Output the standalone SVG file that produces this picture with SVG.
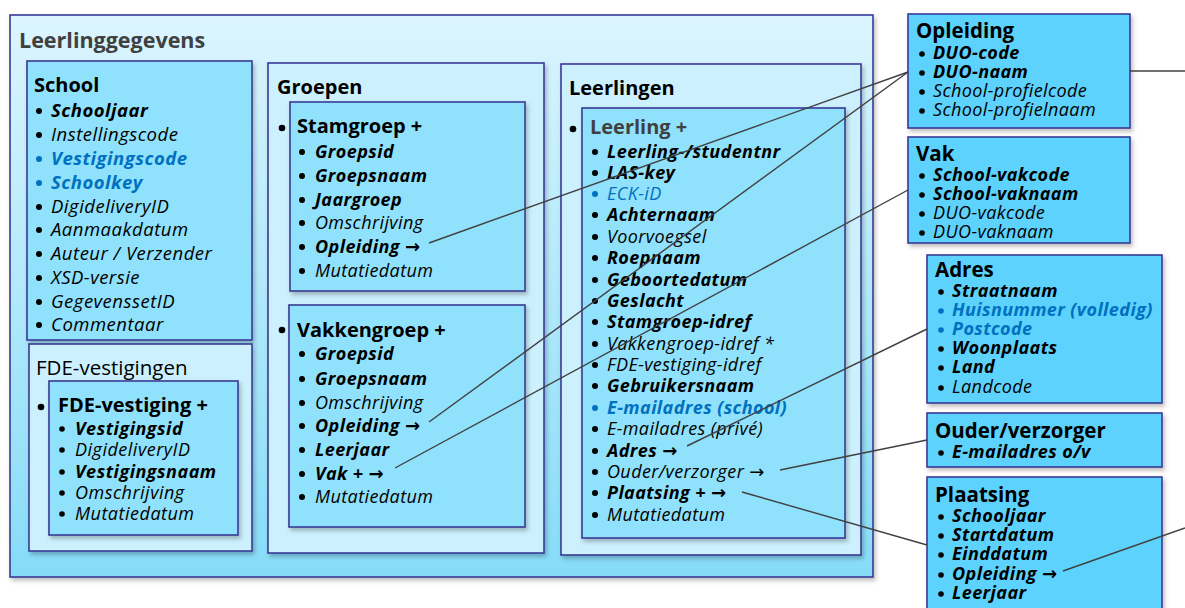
<svg xmlns="http://www.w3.org/2000/svg" width="1185" height="608" viewBox="0 0 1185 608">
<style>
text{font-family:"Open Sans","Noto Sans","Liberation Sans",sans-serif;fill:#000}
.box{stroke:#3a3a96;stroke-width:1.6}
.outer{fill:url(#g)}
.mid{fill:#ccf0fd}
.inn{fill:#90e1fc}
.ext{fill:#5dd2fc}
.h{font-weight:bold;font-size:20px}
.hr{font-weight:bold;font-size:20.5px}
.hb{font-weight:bold;font-size:21.5px;fill:#404040}
.hn{font-size:20.5px}
.bi{font-weight:bold;font-style:italic;font-size:18px;letter-spacing:0.4px}
.i{font-style:italic;font-size:18px;letter-spacing:0.4px}
.L{font-size:18.5px;letter-spacing:0.5px}
.F{font-size:18px;letter-spacing:0.5px}
.blue{fill:#0070c0}
.bb{fill:#0070c0}
.ar{font-family:"DejaVu Sans",sans-serif;font-style:normal;letter-spacing:0}
.con{stroke:#404040;stroke-width:1.4;fill:none}
</style>
<defs>
<linearGradient id="g" x1="0" y1="0" x2="0" y2="1">
<stop offset="0" stop-color="#dcf5fe"/>
<stop offset="1" stop-color="#86dcf8"/>
</linearGradient>
<filter id="sh" x="-5%" y="-5%" width="115%" height="115%">
<feDropShadow dx="2" dy="3" stdDeviation="2" flood-color="#000" flood-opacity="0.25"/>
</filter>
</defs>

<g id="leerlinggegevens">
<rect class="box outer" x="10" y="15" width="863" height="562" filter="url(#sh)"/>
<text class="hb" x="19" y="48">Leerlinggegevens</text>
</g>

<g id="school">
<rect class="box inn" x="27" y="61" width="225" height="279" filter="url(#sh)"/>
<text class="h" x="34" y="92">School</text>
<g><circle cx="39" cy="111" r="3"/><circle cx="39" cy="135" r="3"/><circle cx="39" cy="207" r="3"/><circle cx="39" cy="230" r="3"/><circle cx="39" cy="254" r="3"/><circle cx="39" cy="278" r="3"/><circle cx="39" cy="302" r="3"/><circle cx="39" cy="325" r="3"/></g>
<g class="bb"><circle cx="39" cy="159" r="3"/><circle cx="39" cy="183" r="3"/></g>
<text class="bi L" x="51" y="117">Schooljaar</text>
<text class="i L" x="51" y="141">Instellingscode</text>
<text class="bi L blue" x="51" y="165">Vestigingscode</text>
<text class="bi L blue" x="51" y="189">Schoolkey</text>
<text class="i L" x="51" y="213">DigideliveryID</text>
<text class="i L" x="51" y="236">Aanmaakdatum</text>
<text class="i L" x="51" y="260">Auteur / Verzender</text>
<text class="i L" x="51" y="284">XSD-versie</text>
<text class="i L" x="51" y="308">GegevenssetID</text>
<text class="i L" x="51" y="331">Commentaar</text>
</g>

<g id="fde-vestigingen">
<rect class="box mid" x="29" y="344" width="223" height="207" filter="url(#sh)"/>
<text class="hn" x="36" y="375">FDE-vestigingen</text>
<circle cx="41" cy="407" r="3.3"/>
</g>

<g id="fde-vestiging">
<rect class="box inn" x="49" y="381" width="189" height="154" filter="url(#sh)"/>
<text class="h" x="58" y="412">FDE-vestiging +</text>
<g><circle cx="62" cy="429" r="2.8"/><circle cx="62" cy="450" r="2.8"/><circle cx="62" cy="472" r="2.8"/><circle cx="62" cy="493" r="2.8"/><circle cx="62" cy="514" r="2.8"/></g>
<text class="bi F" x="75" y="435">Vestigingsid</text>
<text class="i F" x="75" y="456">DigideliveryID</text>
<text class="bi F" x="75" y="478">Vestigingsnaam</text>
<text class="i F" x="75" y="499">Omschrijving</text>
<text class="i F" x="75" y="520">Mutatiedatum</text>
</g>

<g id="groepen">
<rect class="box mid" x="268" y="63" width="276" height="490" filter="url(#sh)"/>
<text class="h" x="277" y="94">Groepen</text>
<circle cx="282" cy="128" r="3.3"/>
<circle cx="282" cy="330" r="3.3"/>
</g>

<g id="stamgroep">
<rect class="box inn" x="290" y="102" width="235" height="189" filter="url(#sh)"/>
<text class="h" x="297" y="133">Stamgroep +</text>
<g><circle cx="302" cy="152" r="3"/><circle cx="302" cy="176" r="3"/><circle cx="302" cy="200" r="3"/><circle cx="302" cy="223" r="3"/><circle cx="302" cy="247" r="3"/><circle cx="302" cy="271" r="3"/></g>
<text class="bi" x="315" y="158">Groepsid</text>
<text class="bi" x="315" y="182">Groepsnaam</text>
<text class="bi" x="315" y="206">Jaargroep</text>
<text class="i" x="315" y="229">Omschrijving</text>
<text class="bi" x="315" y="253">Opleiding <tspan class="ar">→</tspan></text>
<text class="i" x="315" y="277">Mutatiedatum</text>
</g>

<g id="vakkengroep">
<rect class="box inn" x="289" y="305" width="236" height="222" filter="url(#sh)"/>
<text class="h" x="297" y="337">Vakkengroep +</text>
<g><circle cx="302" cy="354" r="3"/><circle cx="302" cy="379" r="3"/><circle cx="302" cy="403" r="3"/><circle cx="302" cy="426" r="3"/><circle cx="302" cy="450" r="3"/><circle cx="302" cy="474" r="3"/><circle cx="302" cy="497" r="3"/></g>
<text class="bi" x="315" y="360">Groepsid</text>
<text class="bi" x="315" y="385">Groepsnaam</text>
<text class="i" x="315" y="409">Omschrijving</text>
<text class="bi" x="315" y="432">Opleiding <tspan class="ar">→</tspan></text>
<text class="bi" x="315" y="456">Leerjaar</text>
<text class="bi" x="315" y="480">Vak + <tspan class="ar">→</tspan></text>
<text class="i" x="315" y="503">Mutatiedatum</text>
</g>

<g id="leerlingen">
<rect class="box mid" x="561" y="64" width="300" height="491" filter="url(#sh)"/>
<text class="h" x="569" y="95">Leerlingen</text>
<circle cx="573" cy="129" r="3.3"/>
</g>

<g id="leerling">
<rect class="box inn" x="582" y="108" width="263" height="430" filter="url(#sh)"/>
<text class="h" x="590" y="134" style="fill:#404040">Leerling +</text>
<g><circle cx="595" cy="152" r="3"/><circle cx="595" cy="173" r="3"/><circle cx="595" cy="215" r="3"/><circle cx="595" cy="237" r="3"/><circle cx="595" cy="258" r="3"/><circle cx="595" cy="280" r="3"/><circle cx="595" cy="301" r="3"/><circle cx="595" cy="322" r="3"/><circle cx="595" cy="344" r="3"/><circle cx="595" cy="365" r="3"/><circle cx="595" cy="386" r="3"/><circle cx="595" cy="429" r="3"/><circle cx="595" cy="451" r="3"/><circle cx="595" cy="472" r="3"/><circle cx="595" cy="493" r="3"/><circle cx="595" cy="515" r="3"/></g>
<g class="bb"><circle cx="595" cy="194" r="3"/><circle cx="595" cy="408" r="3"/></g>
<text class="bi" x="607" y="158">Leerling-/studentnr</text>
<text class="bi" x="607" y="179">LAS-key</text>
<text class="i blue" x="607" y="200">ECK-iD</text>
<text class="bi" x="607" y="221">Achternaam</text>
<text class="i" x="607" y="243">Voorvoegsel</text>
<text class="bi" x="607" y="264">Roepnaam</text>
<text class="bi" x="607" y="286">Geboortedatum</text>
<text class="bi" x="607" y="307">Geslacht</text>
<text class="bi" x="607" y="328">Stamgroep-idref</text>
<text class="i" x="607" y="350">Vakkengroep-idref *</text>
<text class="i" x="607" y="371">FDE-vestiging-idref</text>
<text class="bi" x="607" y="392">Gebruikersnaam</text>
<text class="bi blue" x="607" y="414">E-mailadres (school)</text>
<text class="i" x="607" y="435">E-mailadres (privé)</text>
<text class="bi" x="607" y="457">Adres <tspan class="ar">→</tspan></text>
<text class="i" x="607" y="478">Ouder/verzorger <tspan class="ar">→</tspan></text>
<text class="bi" x="607" y="499">Plaatsing + <tspan class="ar">→</tspan></text>
<text class="i" x="607" y="521">Mutatiedatum</text>
</g>

<g id="opleiding">
<rect class="box ext" x="908" y="14" width="222" height="114" filter="url(#sh)"/>
<text class="hr" x="916" y="38">Opleiding</text>
<g><circle cx="922" cy="54" r="2.8"/><circle cx="922" cy="73" r="2.8"/><circle cx="922" cy="92" r="2.8"/><circle cx="922" cy="111" r="2.8"/></g>
<text class="bi" x="933" y="59">DUO-code</text>
<text class="bi" x="933" y="78">DUO-naam</text>
<text class="i" x="933" y="97">School-profielcode</text>
<text class="i" x="933" y="116">School-profielnaam</text>
</g>

<g id="vak">
<rect class="box ext" x="908" y="137" width="222" height="106" filter="url(#sh)"/>
<text class="hr" x="916" y="161">Vak</text>
<g><circle cx="922" cy="176" r="2.8"/><circle cx="922" cy="195" r="2.8"/><circle cx="922" cy="214" r="2.8"/><circle cx="922" cy="233" r="2.8"/></g>
<text class="bi" x="933" y="181">School-vakcode</text>
<text class="bi" x="933" y="200">School-vaknaam</text>
<text class="i" x="933" y="219">DUO-vakcode</text>
<text class="i" x="933" y="238">DUO-vaknaam</text>
</g>

<g id="adres">
<rect class="box ext" x="927" y="255" width="235" height="148" filter="url(#sh)"/>
<text class="hr" x="935" y="277">Adres</text>
<g><circle cx="941" cy="292" r="2.8"/><circle cx="941" cy="349" r="2.8"/><circle cx="941" cy="368" r="2.8"/><circle cx="941" cy="388" r="2.8"/></g>
<g class="bb"><circle cx="941" cy="311" r="2.8"/><circle cx="941" cy="330" r="2.8"/></g>
<text class="bi" x="952" y="297">Straatnaam</text>
<text class="bi blue" x="952" y="316">Huisnummer (volledig)</text>
<text class="bi blue" x="952" y="335">Postcode</text>
<text class="bi" x="952" y="354">Woonplaats</text>
<text class="bi" x="952" y="373">Land</text>
<text class="i" x="952" y="393">Landcode</text>
</g>

<g id="ouder-verzorger">
<rect class="box ext" x="927" y="413" width="235" height="54" filter="url(#sh)"/>
<text class="hr" x="935" y="438">Ouder/verzorger</text>
<circle cx="941" cy="453" r="2.8"/>
<text class="bi" x="952" y="458">E-mailadres o/v</text>
</g>

<g id="plaatsing">
<rect class="box ext" x="927" y="477" width="235" height="140" filter="url(#sh)"/>
<text class="hr" x="935" y="502">Plaatsing</text>
<g><circle cx="941" cy="517" r="2.8"/><circle cx="941" cy="536" r="2.8"/><circle cx="941" cy="555" r="2.8"/><circle cx="941" cy="575" r="2.8"/><circle cx="941" cy="594" r="2.8"/></g>
<text class="bi" x="952" y="522">Schooljaar</text>
<text class="bi" x="952" y="541">Startdatum</text>
<text class="bi" x="952" y="560">Einddatum</text>
<text class="bi" x="952" y="580">Opleiding <tspan class="ar">→</tspan></text>
<text class="bi" x="952" y="599">Leerjaar</text>
</g>

<g id="connectors">
<line class="con" x1="429" y1="243" x2="908" y2="72"/>
<line class="con" x1="429" y1="422" x2="908" y2="72"/>
<line class="con" x1="395" y1="468" x2="908" y2="190"/>
<line class="con" x1="687" y1="446" x2="927" y2="329"/>
<line class="con" x1="780" y1="470" x2="927" y2="440"/>
<line class="con" x1="742" y1="492" x2="927" y2="545"/>
<line class="con" x1="1130" y1="71" x2="1185" y2="71"/>
<line class="con" x1="1063" y1="571" x2="1185" y2="528"/>
</g>
</svg>
